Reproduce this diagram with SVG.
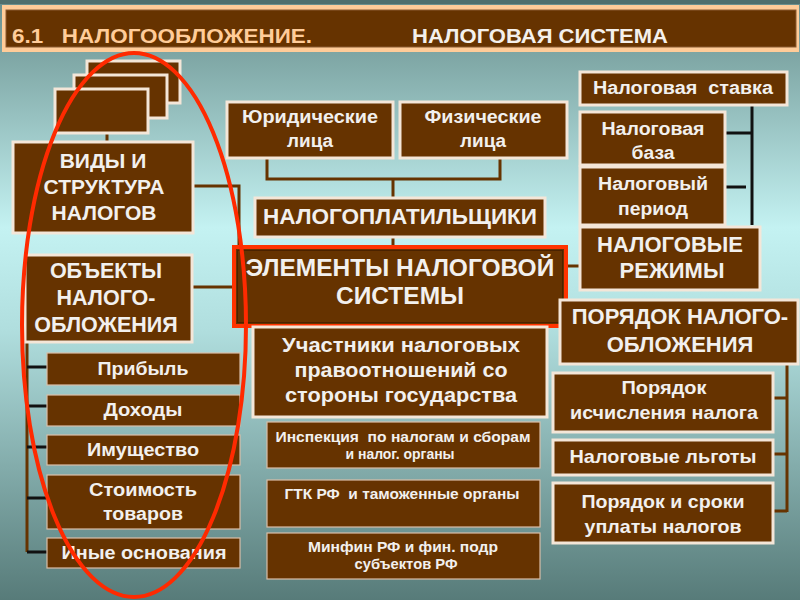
<svg xmlns="http://www.w3.org/2000/svg" width="800" height="600" viewBox="0 0 800 600">
  <defs>
    <linearGradient id="bg" x1="0" y1="0" x2="0" y2="1">
      <stop offset="0" stop-color="#688e8c"/>
      <stop offset="0.38" stop-color="#c4f2f2"/>
      <stop offset="0.55" stop-color="#b0dede"/>
      <stop offset="1" stop-color="#577b79"/>
    </linearGradient>
    <style>
      .box { fill:#663300; stroke:#f4e6d8; stroke-width:3; }
      .sbox { fill:#663300; stroke:#d9bfa8; stroke-width:1.2; }
      .t { font-family:"Liberation Sans", Arial, sans-serif; font-weight:bold; fill:#f2f0ee; text-anchor:middle; }
      .br { fill:none; stroke:#663300; stroke-width:3; }
      .bk { fill:none; stroke:#111111; stroke-width:3; }
    </style>
  </defs>

  <rect x="0" y="0" width="800" height="600" fill="url(#bg)"/>
  <rect x="0" y="0" width="800" height="4" fill="#4f6f6d"/>

  <!-- Title bar -->
  <g id="title">
    <rect x="2" y="5" width="797" height="47" fill="#ffcc99"/>
    <rect x="6" y="10" width="790" height="37" fill="#663300" stroke="#8a5a30" stroke-width="1"/>
    <text x="12" y="43" font-family="'Liberation Sans', Arial, sans-serif" font-weight="bold" font-size="21" fill="#ffcc99" textLength="300" lengthAdjust="spacingAndGlyphs" xml:space="preserve">6.1   НАЛОГООБЛОЖЕНИЕ.</text>
    <text x="412" y="43" font-family="'Liberation Sans', Arial, sans-serif" font-weight="bold" font-size="21" fill="#f4f0ec" textLength="256" lengthAdjust="spacingAndGlyphs">НАЛОГОВАЯ СИСТЕМА</text>
  </g>

  <!-- Connectors -->
  <g id="connectors">
    <polyline class="br" points="107,133 107,142"/>
    <polyline class="br" points="193,186 239,186 239,248"/>
    <polyline class="br" points="192,287 234,287"/>
    <polyline class="br" points="27,342 27,552"/>
    <line class="bk" x1="27" y1="367" x2="47" y2="367"/>
    <line class="bk" x1="27" y1="406" x2="47" y2="406"/>
    <line class="bk" x1="27" y1="447" x2="47" y2="447"/>
    <line class="bk" x1="27" y1="498" x2="47" y2="498"/>
    <line class="bk" x1="27" y1="552" x2="47" y2="552"/>
    <polyline class="br" points="267,158 267,179 500,179 500,158"/>
    <polyline class="br" points="393,179 393,198"/>
    <polyline class="br" points="393,237 393,246"/>
    <polyline class="br" points="568,266 580,266"/>
    <polyline class="bk" points="752,102 752,225"/>
    <line class="bk" x1="725" y1="133" x2="752" y2="133"/>
    <line class="bk" x1="720" y1="187" x2="746" y2="187"/>
    <polyline class="br" points="787,364 787,512"/>
    <line class="br" x1="773" y1="398" x2="787" y2="398"/>
    <line class="br" x1="773" y1="454" x2="787" y2="454"/>
    <line class="br" x1="773" y1="511" x2="787" y2="511"/>
  </g>

  <!-- Left stack -->
  <g id="stack">
    <rect class="box" x="87" y="61" width="93" height="42" stroke-width="2"/>
    <rect class="box" x="74" y="75" width="93" height="43" stroke-width="2"/>
    <rect class="box" x="55" y="89" width="93" height="44" stroke-width="2"/>
  </g>

  <g id="vidy">
    <rect class="box" x="13" y="142" width="180" height="91"/>
    <text class="t" x="103" y="168" font-size="21">ВИДЫ И</text>
    <text class="t" x="104" y="194" font-size="21">СТРУКТУРА</text>
    <text class="t" x="104" y="220" font-size="21">НАЛОГОВ</text>
  </g>

  <g id="obekty">
    <rect class="box" x="25" y="255" width="167" height="87"/>
    <text class="t" x="106" y="278" font-size="21.5">ОБЪЕКТЫ</text>
    <text class="t" x="106" y="305" font-size="21.5">НАЛОГО-</text>
    <text class="t" x="106" y="332" font-size="21.5">ОБЛОЖЕНИЯ</text>
  </g>

  <g id="pribyl">
    <rect class="sbox" x="47" y="353" width="193" height="32"/>
    <text class="t" x="143" y="375" font-size="18" textLength="91" lengthAdjust="spacingAndGlyphs">Прибыль</text>
  </g>
  <g id="dohody">
    <rect class="sbox" x="47" y="395" width="193" height="31"/>
    <text class="t" x="143" y="416" font-size="18" textLength="79" lengthAdjust="spacingAndGlyphs">Доходы</text>
  </g>
  <g id="imushchestvo">
    <rect class="sbox" x="47" y="435" width="193" height="30"/>
    <text class="t" x="143" y="456" font-size="18" textLength="112" lengthAdjust="spacingAndGlyphs">Имущество</text>
  </g>
  <g id="stoimost">
    <rect class="sbox" x="47" y="475" width="193" height="54"/>
    <text class="t" x="143" y="496" font-size="18" textLength="108" lengthAdjust="spacingAndGlyphs">Стоимость</text>
    <text class="t" x="143" y="520" font-size="18" textLength="80" lengthAdjust="spacingAndGlyphs">товаров</text>
  </g>
  <g id="inye">
    <rect class="sbox" x="47" y="538" width="193" height="30"/>
    <text class="t" x="144" y="559" font-size="18" textLength="165" lengthAdjust="spacingAndGlyphs">Иные основания</text>
  </g>

  <!-- Middle -->
  <g id="yur">
    <rect class="box" x="227" y="102" width="166" height="56"/>
    <text class="t" x="310" y="123" font-size="18" textLength="136" lengthAdjust="spacingAndGlyphs">Юридические</text>
    <text class="t" x="310" y="147" font-size="18" textLength="46" lengthAdjust="spacingAndGlyphs">лица</text>
  </g>
  <g id="fiz">
    <rect class="box" x="400" y="102" width="167" height="56"/>
    <text class="t" x="483" y="123" font-size="18" textLength="117" lengthAdjust="spacingAndGlyphs">Физические</text>
    <text class="t" x="483" y="147" font-size="18" textLength="46" lengthAdjust="spacingAndGlyphs">лица</text>
  </g>
  <g id="nalogoplat">
    <rect class="box" x="255" y="198" width="290" height="39"/>
    <text class="t" x="400" y="224" font-size="22.5">НАЛОГОПЛАТИЛЬЩИКИ</text>
  </g>
  <g id="elementy">
    <rect x="234" y="247" width="332" height="79" fill="#663300" stroke="#ff3300" stroke-width="4"/>
    <rect x="237.5" y="250.5" width="325" height="72" fill="none" stroke="#4a2200" stroke-width="1"/>
    <text class="t" x="400" y="276" font-size="24.5">ЭЛЕМЕНТЫ НАЛОГОВОЙ</text>
    <text class="t" x="400" y="304" font-size="24.5">СИСТЕМЫ</text>
  </g>
  <g id="uchastniki">
    <rect class="box" x="253" y="327" width="294" height="90"/>
    <text class="t" x="401" y="352" font-size="21" textLength="238" lengthAdjust="spacingAndGlyphs">Участники налоговых</text>
    <text class="t" x="401" y="377" font-size="21" textLength="213" lengthAdjust="spacingAndGlyphs">правоотношений со</text>
    <text class="t" x="401" y="402" font-size="21" textLength="232" lengthAdjust="spacingAndGlyphs">стороны государства</text>
  </g>
  <g id="inspektsiya">
    <rect class="sbox" x="267" y="422" width="273" height="46"/>
    <text class="t" x="403" y="442" font-size="14.5" textLength="255" lengthAdjust="spacingAndGlyphs" xml:space="preserve">Инспекция  по налогам и сборам</text>
    <text class="t" x="400" y="459" font-size="14.5" textLength="109" lengthAdjust="spacingAndGlyphs">и налог. органы</text>
  </g>
  <g id="gtk">
    <rect class="sbox" x="267" y="480" width="273" height="47"/>
    <text class="t" x="402" y="499" font-size="14.5" textLength="235" lengthAdjust="spacingAndGlyphs" xml:space="preserve">ГТК РФ  и таможенные органы</text>
  </g>
  <g id="minfin">
    <rect class="sbox" x="267" y="533" width="273" height="46"/>
    <text class="t" x="403" y="552" font-size="14.5" textLength="190" lengthAdjust="spacingAndGlyphs">Минфин РФ и фин. подр</text>
    <text class="t" x="406" y="569" font-size="14.5" textLength="103" lengthAdjust="spacingAndGlyphs">субъектов РФ</text>
  </g>

  <!-- Right -->
  <g id="stavka">
    <rect class="box" x="580" y="72" width="207" height="33"/>
    <text class="t" x="683" y="94" font-size="17.5" textLength="180" lengthAdjust="spacingAndGlyphs" xml:space="preserve">Налоговая  ставка</text>
  </g>
  <g id="baza">
    <rect class="box" x="580" y="112" width="145" height="53"/>
    <text class="t" x="653" y="135" font-size="18" textLength="103" lengthAdjust="spacingAndGlyphs">Налоговая</text>
    <text class="t" x="653" y="159" font-size="18" textLength="43" lengthAdjust="spacingAndGlyphs">база</text>
  </g>
  <g id="period">
    <rect class="box" x="580" y="167" width="145" height="58"/>
    <text class="t" x="653" y="190" font-size="18" textLength="110" lengthAdjust="spacingAndGlyphs">Налоговый</text>
    <text class="t" x="653" y="215" font-size="18" textLength="70" lengthAdjust="spacingAndGlyphs">период</text>
  </g>
  <g id="rezhimy">
    <rect class="box" x="580" y="227" width="180" height="63"/>
    <text class="t" x="670" y="252" font-size="22">НАЛОГОВЫЕ</text>
    <text class="t" x="672" y="278" font-size="22">РЕЖИМЫ</text>
  </g>
  <g id="poryadok">
    <rect class="box" x="560" y="300" width="238" height="64"/>
    <text class="t" x="680" y="324" font-size="22">ПОРЯДОК НАЛОГО-</text>
    <text class="t" x="680" y="352" font-size="22">ОБЛОЖЕНИЯ</text>
  </g>
  <g id="ischislenie">
    <rect class="box" x="553" y="373" width="220" height="59"/>
    <text class="t" x="664" y="394" font-size="18.5" textLength="85" lengthAdjust="spacingAndGlyphs">Порядок</text>
    <text class="t" x="664" y="419" font-size="18.5" textLength="188" lengthAdjust="spacingAndGlyphs">исчисления налога</text>
  </g>
  <g id="lgoty">
    <rect class="box" x="553" y="440" width="220" height="35"/>
    <text class="t" x="663" y="463" font-size="18.5" textLength="187" lengthAdjust="spacingAndGlyphs">Налоговые льготы</text>
  </g>
  <g id="sroki">
    <rect class="box" x="553" y="483" width="220" height="60"/>
    <text class="t" x="663" y="508" font-size="18.5" textLength="163" lengthAdjust="spacingAndGlyphs">Порядок и сроки</text>
    <text class="t" x="663" y="533" font-size="18.5" textLength="157" lengthAdjust="spacingAndGlyphs">уплаты налогов</text>
  </g>

  <!-- Red ellipse highlight -->
  <ellipse cx="134" cy="325" rx="112" ry="272" fill="none" stroke="#ff2a00" stroke-width="4"/>
</svg>
